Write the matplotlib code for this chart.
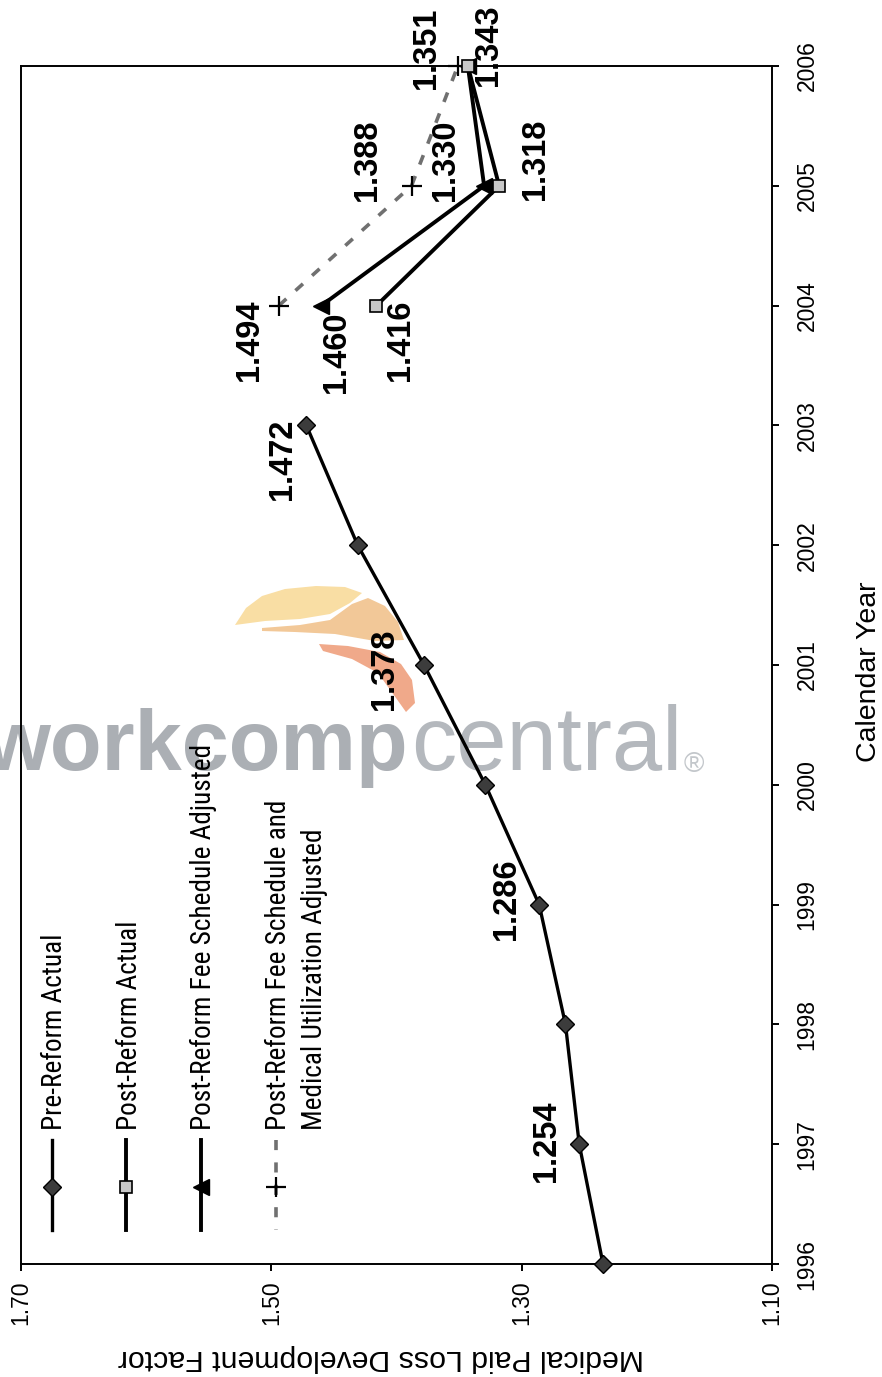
import matplotlib
matplotlib.use("Agg")
import matplotlib.pyplot as plt
from matplotlib import font_manager
from matplotlib.lines import Line2D
from matplotlib.patches import Polygon

# ---- data -------------------------------------------------------------
pre_years = [1996, 1997, 1998, 1999, 2000, 2001, 2002, 2003]
pre_values = [1.235, 1.254, 1.265, 1.286, 1.329, 1.378, 1.431, 1.472]

post_years = [2004, 2005, 2006]
post_actual = [1.416, 1.318, 1.343]
post_fee = [1.460, 1.330, 1.343]
post_fee_util = [1.494, 1.388, 1.351]

year_ticks = list(range(1996, 2007))
year_labels = [str(y) for y in year_ticks]
value_ticks = [1.70, 1.50, 1.30, 1.10]
value_labels = ["1.70", "1.50", "1.30", "1.10"]

series_names = [
    "Pre-Reform Actual",
    "Post-Reform Actual",
    "Post-Reform Fee Schedule Adjusted",
    "Post-Reform Fee Schedule and\nMedical Utilization Adjusted",
]

# ---- fonts ------------------------------------------------------------
installed = {f.name for f in font_manager.fontManager.ttflist}
SANS = "Liberation Sans"
NARROW, legend_size = "Liberation Sans", 17.5
for cand in ("Liberation Sans Narrow", "Arial Narrow", "Roboto Condensed"):
    if cand in installed:
        NARROW, legend_size = cand, 19.6
        break
plt.rcParams["font.family"] = [SANS, "DejaVu Sans"]

W, H = 882, 1377
fig = plt.figure(figsize=(W / 100, H / 100), dpi=100)
fig.patch.set_facecolor("white")


def fx(x):
    return x / W


def fy(y):
    return 1 - y / H


ax = fig.add_axes([fx(21), fy(1264), fx(772) - fx(21), fy(66) - fy(1264)])
ax.set_facecolor("none")

# ---- series styles ----------------------------------------------------
style_pre = dict(color="black", lw=2.4, marker="D", ms=9.5, mfc="#3c3c3c",
                 mec="black", mew=1.0)
style_actual = dict(color="black", lw=2.8, marker="s", ms=9, mfc="#c8c8c8",
                    mec="black", mew=1.2)
style_fee = dict(color="black", lw=2.8, marker="<", ms=11, mfc="black",
                 mec="black", mew=1.0)
style_util = dict(color="#707070", lw=2.6, ls=(0, (2.8, 3.4)), marker="+",
                  ms=15, mec="black", mew=1.6)

ax.plot(post_fee_util, post_years, zorder=3, clip_on=False, **style_util)
ax.plot(post_fee, post_years, zorder=4, clip_on=False, **style_fee)
ax.plot(post_actual, post_years, zorder=5, clip_on=False, **style_actual)
ax.plot(pre_values, pre_years, zorder=5, clip_on=False, **style_pre)

# ---- value labels -----------------------------------------------------
label_kw = dict(textcoords="offset pixels", rotation=90, ha="center",
                va="center", fontsize=23.5, fontweight="bold", zorder=6,
                annotation_clip=False)


def label(values, yrs, idx, dx, dy):
    v = values[idx]
    ax.annotate(f"{v:.3f}", xy=(v, yrs[idx]), xytext=(dx, dy), **label_kw)


label(pre_values, pre_years, 1, -33, 3)
label(pre_values, pre_years, 3, -33, 5)
label(pre_values, pre_years, 5, -40, -4)
label(pre_values, pre_years, 7, -24, -34)

label(post_actual, post_years, 0, 24, -35)
label(post_actual, post_years, 1, 36, 26)
label(post_actual, post_years, 2, 21, 21)

label(post_fee, post_years, 0, 15, -47)
label(post_fee, post_years, 1, -39, 26)

label(post_fee_util, post_years, 0, -29, -35)
label(post_fee_util, post_years, 1, -44, 26)
label(post_fee_util, post_years, 2, -31, 18)

# ---- axes -------------------------------------------------------------
ax.set_xlim(1.70, 1.10)
ax.set_ylim(1996, 2006)
ax.set_xticks(value_ticks)
ax.set_xticklabels(value_labels, rotation=90)
ax.set_yticks(year_ticks)
ax.yaxis.tick_right()
ax.set_yticklabels(year_labels, rotation=90, va="center")
ax.tick_params(axis="both", direction="out", length=5, width=1.4,
               labelsize=16.5, color="black")
ax.tick_params(axis="x", pad=7)
ax.tick_params(axis="y", pad=12)
for s in ax.spines.values():
    s.set_linewidth(1.4)

fig.text(fx(869), fy(672), "Calendar Year", rotation=90, ha="center",
         va="center", fontsize=20.5)
fig.text(fx(381), fy(1358), "Medical Paid Loss Development Factor",
         rotation=180, ha="center", va="center", fontsize=21.8)

# ---- legend (drawn by hand, rotated) ----------------------------------
handle_x = [52, 126, 201, 276]
handle_styles = [style_pre, style_actual, style_fee, style_util]
for hx, st in zip(handle_x, handle_styles):
    line_kw = {k: v for k, v in st.items() if k in ("color", "lw", "ls")}
    fig.add_artist(Line2D([fx(hx), fx(hx)], [fy(1140), fy(1230)],
                          transform=fig.transFigure, **line_kw))
    mark_kw = {k: v for k, v in st.items()
               if k in ("marker", "ms", "mfc", "mec", "mew")}
    fig.add_artist(Line2D([fx(hx)], [fy(1187)], transform=fig.transFigure,
                          ls="none", **mark_kw))

text_base_x = [62, 137, 211, 286]
for bx, name in zip(text_base_x, series_names):
    for j, line in enumerate(name.split("\n")):
        fig.text(fx(bx + 35.5 * j), fy(1130), line, rotation=90,
                 rotation_mode="anchor", ha="left", va="baseline",
                 fontsize=legend_size, family=[NARROW, "DejaVu Sans"])

# ---- watermark --------------------------------------------------------
wm_kw = dict(transform=fig.transFigure, va="baseline", zorder=0.5,
             clip_on=False)
ax.text(fx(408), fy(770), "workcomp", ha="right", fontsize=61,
        fontweight="bold", color="#abafb4", **wm_kw)
ax.text(fx(411), fy(770), "central", ha="left", fontsize=65,
        color="#b4b8bd", **wm_kw)
ax.text(fx(684), fy(772), "\u00ae", ha="left", fontsize=20,
        color="#c3c7cb", **wm_kw)

swoosh = [
    ("#f9dea4", [(235, 625), (246, 608), (262, 596), (285, 589), (316, 586),
                 (345, 587), (362, 593), (350, 603), (330, 614), (300, 619),
                 (265, 621)]),
    ("#f2c898", [(262, 628), (300, 625), (330, 620), (352, 604), (368, 598),
                 (385, 606), (398, 622), (404, 640), (375, 641), (335, 634),
                 (295, 632), (262, 631)]),
    ("#f0a98a", [(319, 644), (348, 646), (380, 652), (401, 664), (412, 680),
                 (415, 703), (406, 712), (396, 698), (378, 673), (352, 659),
                 (323, 651)]),
]
for color, pts in swoosh:
    ax.add_patch(Polygon([(fx(x), fy(y)) for x, y in pts], closed=True,
                         transform=fig.transFigure, facecolor=color,
                         edgecolor="none", zorder=0.4, clip_on=False))

fig.savefig("out.png", dpi=100, facecolor="white")
